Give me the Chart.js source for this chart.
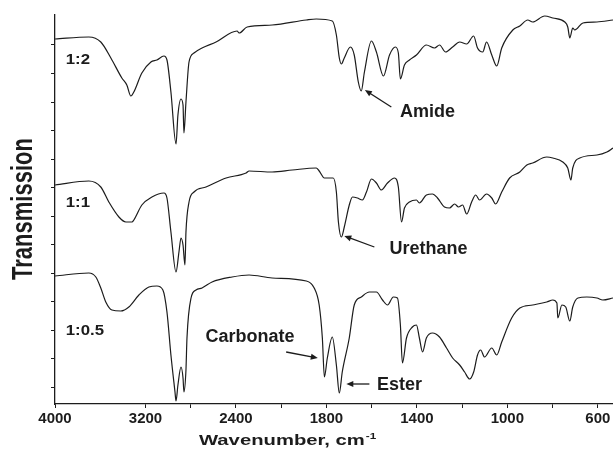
<!DOCTYPE html>
<html>
<head>
<meta charset="utf-8">
<script src="https://cdn.jsdelivr.net/npm/chart.js@4.4.1/dist/chart.umd.min.js"></script>
<style>
  html, body { margin: 0; padding: 0; background: #fff; }
  #wrap { width: 613px; height: 454px; }
</style>
</head>
<body>
<div id="wrap"><canvas id="ftir" width="613" height="454"></canvas></div>
<script>
// FTIR spectra, wavenumber in cm-1, transmission in arbitrary units (traces are offset)
const wn12 = [4000, 3701, 3595, 3506, 3409, 3365, 3329, 3303, 3232, 3152, 3099, 3037, 3010, 2975, 2930, 2913, 2886, 2868, 2860, 2842, 2815, 2771, 2700, 2576, 2390, 2372, 2301, 2080, 1889, 1845, 1774, 1756, 1743, 1734, 1721, 1694, 1677, 1659, 1646, 1632, 1601, 1579, 1548, 1521, 1495, 1482, 1473, 1455, 1433, 1402, 1358, 1322, 1300, 1273, 1242, 1211, 1180, 1149, 1132, 1109, 1092, 1069, 1047, 1025, 976, 945, 910, 888, 835, 799, 746, 733, 724, 711, 702, 666, 604, 533];
const tr12 = [365, 367, 362, 346, 326, 319, 308, 312, 331, 342, 344, 348, 344, 312, 260, 289, 305, 299, 271, 302, 342, 351, 356, 362, 373, 371, 377, 379, 384, 385, 383, 369, 346, 340, 346, 357, 349, 322, 313, 332, 363, 352, 328, 349, 357, 351, 325, 339, 344, 349, 359, 356, 359, 352, 357, 362, 360, 368, 356, 352, 362, 349, 338, 356, 374, 378, 384, 382, 388, 386, 382, 377, 366, 376, 374, 381, 382, 384];

const wn11 = [4000, 3701, 3595, 3524, 3435, 3373, 3320, 3303, 3232, 3143, 3037, 3010, 2975, 2930, 2904, 2886, 2868, 2851, 2842, 2815, 2771, 2665, 2487, 2310, 2284, 2080, 1951, 1845, 1832, 1809, 1787, 1770, 1756, 1747, 1734, 1721, 1699, 1685, 1663, 1641, 1623, 1601, 1579, 1557, 1530, 1499, 1482, 1468, 1455, 1433, 1402, 1389, 1358, 1331, 1309, 1278, 1256, 1233, 1216, 1198, 1180, 1158, 1140, 1123, 1092, 1069, 1052, 1025, 990, 945, 914, 888, 826, 799, 755, 733, 719, 711, 680, 604, 560, 533];
const tr11 = [219, 223, 217, 202, 187, 182, 182, 184, 199, 207, 211, 206, 172, 132, 152, 166, 159, 139, 172, 202, 212, 217, 226, 231, 233, 232, 234, 236, 233, 226, 226, 226, 212, 182, 167, 177, 199, 207, 206, 204, 212, 225, 221, 214, 221, 226, 217, 182, 196, 202, 204, 201, 209, 210, 206, 197, 196, 200, 197, 199, 190, 202, 209, 204, 210, 206, 200, 212, 226, 232, 239, 241, 247, 246, 242, 236, 224, 236, 246, 249, 252, 256];

const wn05 = [4000, 3701, 3639, 3595, 3551, 3497, 3418, 3347, 3258, 3170, 3099, 3046, 3010, 2975, 2939, 2930, 2913, 2886, 2868, 2860, 2842, 2833, 2797, 2753, 2700, 2611, 2434, 2284, 2080, 1889, 1854, 1832, 1818, 1809, 1796, 1774, 1756, 1743, 1730, 1699, 1677, 1646, 1610, 1579, 1552, 1530, 1504, 1486, 1473, 1464, 1446, 1420, 1402, 1389, 1375, 1358, 1331, 1300, 1269, 1242, 1211, 1189, 1167, 1149, 1132, 1118, 1101, 1069, 1047, 1025, 981, 945, 888, 826, 799, 781, 777, 759, 742, 724, 711, 688, 649, 604, 578, 533];
const tr05 = [128, 131, 127, 116, 102, 94, 93, 97, 109, 117, 118, 114, 92, 49, 12, 3, 19, 37, 26, 12, 34, 66, 106, 114, 116, 122, 127, 129, 126, 123, 116, 99, 66, 27, 46, 67, 39, 11, 32, 66, 99, 107, 112, 112, 104, 99, 107, 106, 79, 41, 66, 77, 79, 66, 52, 66, 71, 67, 56, 46, 39, 32, 25, 32, 49, 54, 47, 56, 49, 62, 86, 96, 99, 102, 104, 101, 86, 99, 97, 83, 97, 106, 107, 106, 104, 106];

const sampleNames = ['1:2', '1:1', '1:0.5'];
const xTicks = [4000, 3200, 2800, 2400, 2000, 1800, 1600, 1400, 1200, 1000, 800, 600];
const xLabels = [4000, 3200, 2400, 1800, 1400, 1000, 600];
const yTicks = [17, 45.5, 74, 102.5, 131, 159.5, 188, 216.5, 245, 273.5, 302, 330.5, 359];

// band labels, anchored in data coordinates
const notes = ['Amide', 'Urethane', 'Carbonate', 'Ester'];
const noteAt = [[1353, 292], [1349, 155], [2275, 67], [1477, 19]];
const arrowFrom = [[1513, 297], [1588, 157], [1978, 52], [1610, 20]];
const arrowTo = [[1630, 314], [1721, 168], [1838, 46], [1712, 20]];
const nameAt = [[3905, 344], [3905, 201], [3905, 73]];

const ink = '#1c1c1c';
const font = '"Liberation Sans", Arial, Helvetica, sans-serif';

// the axis is compressed by half above 2000 cm-1
function toAxis(w) { return w > 2000 ? 2000 + (w - 2000) / 2 : w; }
function fromAxis(v) { return v > 2000 ? 2000 + (v - 2000) * 2 : v; }

function series(wn, tr) {
  return wn.map((w, i) => ({ x: toAxis(w), y: tr[i] }));
}

function stretchText(ctx, s, x, y, sx, align) {
  ctx.save();
  ctx.translate(x, y);
  ctx.scale(sx, 1);
  ctx.textAlign = align;
  ctx.fillText(s, 0, 0);
  ctx.restore();
}

const annotate = {
  id: 'annotate',
  afterDraw(chart) {
    const { ctx, scales } = chart;
    const px = w => scales.x.getPixelForValue(toAxis(w));
    const py = v => scales.y.getPixelForValue(v);
    ctx.save();
    ctx.fillStyle = ink;
    ctx.strokeStyle = ink;

    // sample ratios
    ctx.font = 'bold 14px ' + font;
    ctx.textBaseline = 'middle';
    sampleNames.forEach((s, i) => stretchText(ctx, s, px(nameAt[i][0]), py(nameAt[i][1]), 1.2, 'left'));

    // band names + arrows
    ctx.font = 'bold 18px ' + font;
    notes.forEach((s, i) => {
      ctx.textAlign = 'center';
      ctx.fillText(s, px(noteAt[i][0]), py(noteAt[i][1]));
      const x0 = px(arrowFrom[i][0]), y0 = py(arrowFrom[i][1]);
      const x1 = px(arrowTo[i][0]), y1 = py(arrowTo[i][1]);
      const a = Math.atan2(y1 - y0, x1 - x0);
      ctx.lineWidth = 1.3;
      ctx.beginPath();
      ctx.moveTo(x0, y0);
      ctx.lineTo(x1 - 5 * Math.cos(a), y1 - 5 * Math.sin(a));
      ctx.stroke();
      ctx.beginPath();
      ctx.moveTo(x1, y1);
      ctx.lineTo(x1 - 7 * Math.cos(a) + 3 * Math.sin(a), y1 - 7 * Math.sin(a) - 3 * Math.cos(a));
      ctx.lineTo(x1 - 7 * Math.cos(a) - 3 * Math.sin(a), y1 - 7 * Math.sin(a) + 3 * Math.cos(a));
      ctx.closePath();
      ctx.fill();
    });

    // axis titles
    ctx.font = 'bold 15px ' + font;
    ctx.textBaseline = 'alphabetic';
    ctx.textAlign = 'left';
    const title = 'Wavenumber, cm';
    const tw = ctx.measureText(title).width * 1.35;
    stretchText(ctx, title, 199, 444.5, 1.35, 'left');
    ctx.font = 'bold 9px ' + font;
    stretchText(ctx, '-1', 199 + tw + 1, 439, 1.3, 'left');

    ctx.font = 'bold 22px ' + font;
    ctx.save();
    ctx.translate(32, 209);
    ctx.rotate(-Math.PI / 2);
    ctx.scale(1, 1.3);
    ctx.textAlign = 'center';
    ctx.fillText('Transmission', 0, 0);
    ctx.restore();

    ctx.restore();
  }
};

const lineStyle = { borderColor: ink, borderWidth: 1.2, pointRadius: 0, cubicInterpolationMode: 'monotone', fill: false };

new Chart(document.getElementById('ftir'), {
  type: 'line',
  data: {
    datasets: [
      Object.assign({ label: sampleNames[0], data: series(wn12, tr12) }, lineStyle),
      Object.assign({ label: sampleNames[1], data: series(wn11, tr11) }, lineStyle),
      Object.assign({ label: sampleNames[2], data: series(wn05, tr05) }, lineStyle)
    ]
  },
  options: {
    responsive: false,
    animation: false,
    devicePixelRatio: 1,
    layout: { padding: { top: 15, right: 0, bottom: 0, left: 0 } },
    plugins: { legend: { display: false }, tooltip: { enabled: false } },
    scales: {
      x: {
        type: 'linear',
        reverse: true,
        min: toAxis(533),
        max: toAxis(4000),
        afterBuildTicks: s => { s.ticks = xTicks.map(w => ({ value: toAxis(w) })); },
        afterFit: s => { s.height = 50; s.paddingLeft = 0; s.paddingRight = 0; },
        grid: { drawOnChartArea: false, drawTicks: true, tickLength: 4, color: ink, lineWidth: 1 },
        border: { display: true, color: ink, width: 1.3 },
        ticks: {
          autoSkip: false,
          maxRotation: 0,
          padding: 2,
          color: ink,
          font: { family: font, size: 15, weight: 'bold' },
          callback: v => {
            const w = Math.round(fromAxis(v));
            return xLabels.includes(w) ? String(w) : '';
          }
        }
      },
      y: {
        type: 'linear',
        min: 0,
        max: 389,
        afterBuildTicks: s => { s.ticks = yTicks.map(v => ({ value: v })); },
        afterFit: s => { s.width = 55; },
        grid: { drawOnChartArea: false, drawTicks: true, tickLength: 4, color: ink, lineWidth: 1 },
        border: { display: true, color: ink, width: 1.3 },
        ticks: { display: false }
      }
    }
  },
  plugins: [annotate]
});
</script>
</body>
</html>
